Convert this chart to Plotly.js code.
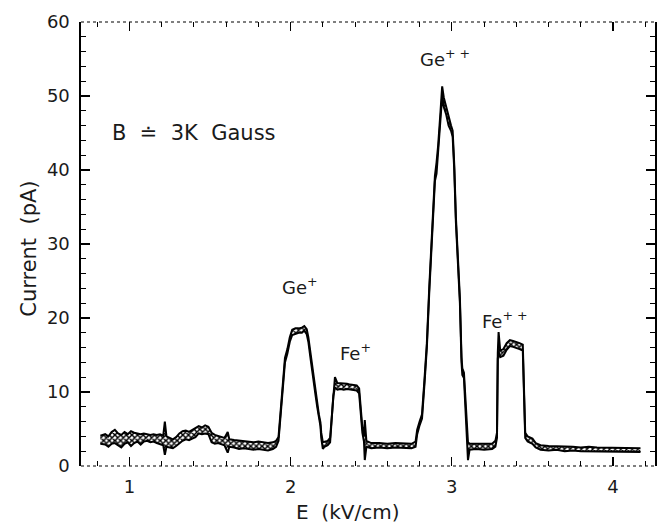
<!DOCTYPE html>
<html>
<head>
<meta charset="utf-8">
<script src="https://cdn.plot.ly/plotly-3.0.1.min.js"></script>
<style>html,body{margin:0;padding:0;background:#fff;}#chart{width:657px;height:525px;}</style>
</head>
<body>
<div id="chart"></div>
<script>
// E field (kV/cm)
const eField = [0.82,0.85,0.87,0.89,0.91,0.93,0.95,0.97,0.99,1.01,1.03,1.05,1.07,1.09,1.11,1.13,1.15,1.17,1.19,1.21,1.22,1.23,1.25,1.27,1.29,1.31,1.33,1.35,1.37,1.39,1.41,1.43,1.45,1.47,1.49,1.51,1.53,1.55,1.57,1.59,1.61,1.62,1.65,1.68,1.71,1.74,1.77,1.80,1.83,1.86,1.89,1.91,
1.925,1.94,1.955,1.965,1.98,1.995,2.01,2.03,2.05,2.07,2.085,2.10,2.11,2.125,2.14,2.155,2.165,2.175,2.185,2.19,2.20,2.21,2.23,2.245,2.255,2.265,2.275,2.29,2.31,2.33,2.35,2.37,2.39,2.41,2.425,2.435,2.445,2.455,2.46,2.47,2.50,2.55,2.60,2.65,2.70,2.75,2.775,2.785,2.80,2.815,2.83,2.845,2.86,2.875,2.885,2.895,2.905,2.915,2.93,2.94,2.95,2.965,2.98,2.995,3.005,3.015,3.025,3.04,3.05,3.06,3.065,3.075,3.085,3.095,3.10,3.11,3.15,3.20,3.25,3.27,3.28,3.285,3.29,3.30,3.32,3.34,3.36,3.38,3.40,3.42,3.44,3.45,3.455,3.47,3.50,3.52,3.55,3.60,3.65,3.70,3.75,3.80,3.85,3.90,3.95,4.00,4.05,4.10,4.17];
// lower edge of the measured current band (pA)
const currentLow = [3.0,2.9,2.6,3.0,3.1,2.8,2.5,3.0,3.2,2.7,3.1,3.3,2.9,3.3,3.4,3.2,3.3,3.1,3.0,2.8,1.5,2.6,2.5,2.4,2.7,3.1,3.4,3.6,3.5,3.7,3.9,4.4,4.3,4.4,4.3,3.2,3.0,3.1,2.9,2.8,1.8,2.6,2.5,2.3,2.4,2.3,2.2,2.3,2.2,2.1,2.3,2.6,
3.4,7.0,11.5,14.0,15.2,16.8,17.7,17.9,18.0,18.0,18.3,17.8,16.8,14.3,11.5,9.5,8.0,6.5,5.4,3.8,2.3,2.6,2.8,3.2,6.0,9.5,10.6,10.3,10.4,10.3,10.4,10.3,10.3,10.2,9.8,7.5,4.5,3.3,0.8,2.6,2.4,2.5,2.4,2.5,2.4,2.4,2.6,4.3,5.5,6.4,11.0,16.0,23.5,29.5,33.0,38.5,39.5,42.5,47.0,50.0,48.5,47.5,46.0,45.3,44.5,40.0,33.0,25.5,22.0,14.0,12.3,11.9,8.0,4.0,0.8,2.2,2.3,2.2,2.3,2.6,3.8,14.5,15.5,14.7,14.9,15.7,16.2,16.1,16.0,15.8,15.6,8.0,3.8,3.3,3.0,2.5,2.2,2.1,2.2,2.0,2.1,2.0,2.0,1.9,2.0,1.9,1.9,1.9,1.9];
// upper edge of the measured current band (pA)
const currentHigh = [4.1,4.3,4.0,4.6,4.9,4.4,4.2,4.6,4.3,4.7,4.5,4.4,4.3,4.4,4.3,4.2,4.3,4.2,4.3,4.1,6.0,4.0,3.8,3.6,3.9,4.4,4.7,4.8,4.6,4.9,5.1,5.4,5.2,5.5,5.3,4.5,4.2,4.1,3.9,3.8,4.6,3.6,3.5,3.4,3.4,3.3,3.2,3.3,3.2,3.1,3.2,3.4,
3.9,7.6,12.2,14.6,15.8,17.4,18.4,18.6,18.6,18.7,18.9,18.5,17.4,14.9,12.1,10.0,8.5,7.0,5.9,4.5,3.2,3.3,3.4,3.8,6.6,10.1,12.0,11.2,11.2,11.1,11.1,11.0,11.0,10.9,10.5,8.2,5.2,4.0,6.2,3.4,3.1,3.1,3.0,3.1,3.0,3.0,3.3,4.9,6.0,7.0,11.6,16.6,24.2,30.2,33.7,39.2,41.0,43.3,48.0,51.3,49.8,48.5,47.0,46.0,45.3,40.7,33.7,26.2,22.7,14.7,13.2,12.6,8.7,4.8,3.2,3.0,3.0,2.9,3.0,3.4,4.5,15.3,18.1,15.6,15.8,16.6,17.0,16.9,16.8,16.6,16.4,8.7,4.5,4.0,3.7,3.1,2.8,2.7,2.7,2.6,2.6,2.5,2.6,2.5,2.5,2.5,2.4,2.4,2.4];

const labelText = ["B  ≐  3K  Gauss","Ge<sup>+</sup>","Fe<sup>+</sup>","Ge<sup>+ +</sup>","Fe<sup>+ +</sup>"];
const labelX = [0.88,2.06,2.40,2.96,3.33];
const labelY = [45,24.3,15.4,55.1,19.7];
const labelSize = [21,18,18,18,18];

const ink = '#1a1a1a';
const fam = 'DejaVu Sans, Liberation Sans, sans-serif';
const fnt = {family:fam, size:18, color:ink};

const traces = [
  {x:eField, y:currentLow, mode:'lines', line:{color:'#000', width:2}, hoverinfo:'skip', showlegend:false},
  {x:eField, y:currentHigh, mode:'lines', line:{color:'#000', width:2}, fill:'tonexty',
   fillpattern:{shape:'x', size:4, solidity:0.6, fgcolor:'#000', bgcolor:'#fff'}, fillcolor:'#fff', hoverinfo:'skip', showlegend:false}
];

const annotations = labelText.map((t,i)=>({
  x:labelX[i], y:labelY[i], xref:'x', yref:'y', text:t, showarrow:false,
  xanchor: i===0 ? 'left' : 'center', yanchor:'middle', font:{family:fam, size:labelSize[i], color:ink}
}));
annotations.push({x:0.465, y:-0.104, xref:'paper', yref:'paper', text:'E  (kV/cm)', showarrow:false,
  xanchor:'center', yanchor:'middle', font:{family:fam, size:20, color:ink}});
annotations.push({x:-0.09, y:0.49, xref:'paper', yref:'paper', text:'Current  (pA)', showarrow:false, textangle:-90,
  xanchor:'center', yanchor:'middle', font:{family:fam, size:21, color:ink}});

const layout = {
  width:657, height:525,
  margin:{l:81, r:2, t:22, b:59},
  paper_bgcolor:'#fff', plot_bgcolor:'#fff',
  showlegend:false,
  font:fnt,
  xaxis:{range:[0.70,4.26], tickvals:[1,2,3,4], ticks:'inside', ticklen:9, tickwidth:1.3, tickcolor:'#000',
    minor:{dtick:0.2, tick0:0, ticks:'inside', ticklen:5, tickwidth:1, tickcolor:'#000'},
    showline:false, mirror:'ticks', showgrid:false, zeroline:false, ticklabelstandoff:8, tickfont:fnt},
  yaxis:{range:[0,60], tickvals:[0,10,20,30,40,50,60], ticks:'inside', ticklen:9, tickwidth:1.3, tickcolor:'#000',
    minor:{dtick:2, tick0:0, ticks:'inside', ticklen:5, tickwidth:1, tickcolor:'#000'},
    showline:true, linecolor:'#000', linewidth:1.6, mirror:'ticks', showgrid:false, zeroline:false, ticklabelstandoff:6, tickfont:fnt},
  shapes:[
    {type:'line', xref:'paper', yref:'paper', x0:0, x1:1, y0:0, y1:0, line:{color:'#000', width:1.2, dash:'dot'}},
    {type:'line', xref:'paper', yref:'paper', x0:0, x1:1, y0:1, y1:1, line:{color:'#000', width:1.2, dash:'dot'}}
  ],
  annotations:annotations
};

Plotly.newPlot('chart', traces, layout, {staticPlot:true, displayModeBar:false});
</script>
</body>
</html>
